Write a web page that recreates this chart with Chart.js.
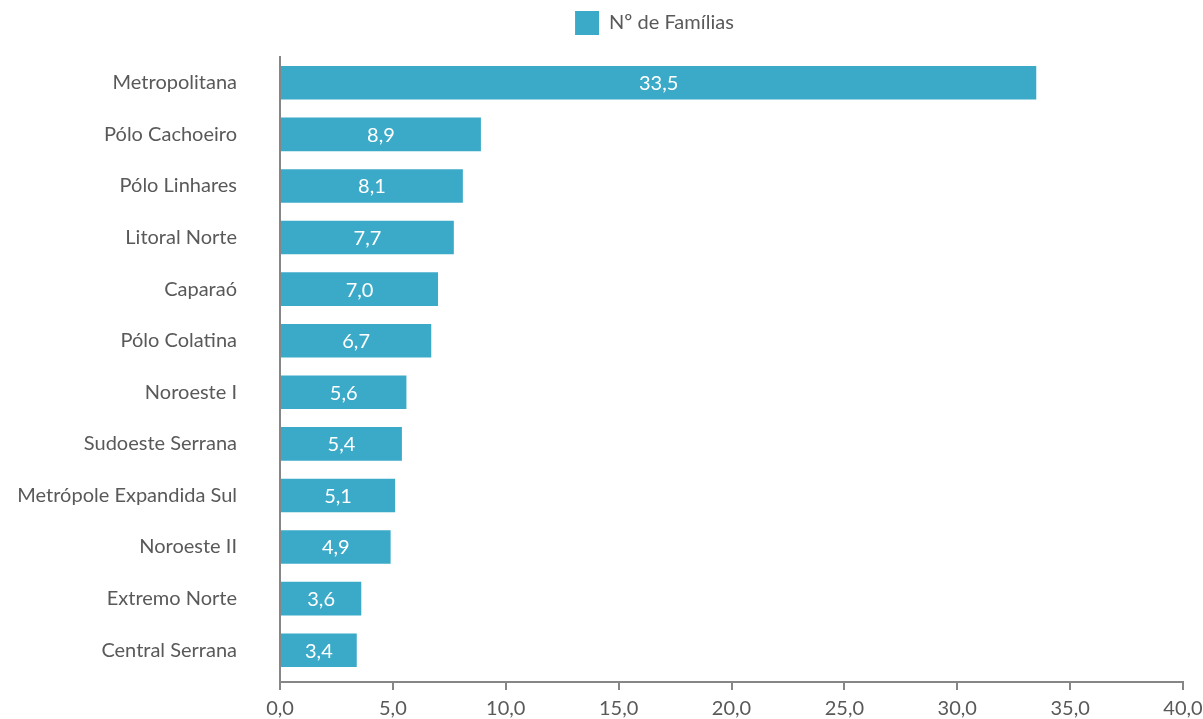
<!DOCTYPE html>
<html lang="pt">
<head>
<meta charset="utf-8">
<title>Nº de Famílias por região</title>
<script src="https://cdn.jsdelivr.net/npm/chart.js@4.4.1/dist/chart.umd.min.js"></script>
<style>
  html, body { margin: 0; padding: 0; background: #ffffff; }
  canvas { display: block; }
</style>
</head>
<body>
<canvas id="grafico" width="1203" height="719"></canvas>
<script>
const regioes = [
  "Metropolitana",
  "Pólo Cachoeiro",
  "Pólo Linhares",
  "Litoral Norte",
  "Caparaó",
  "Pólo Colatina",
  "Noroeste I",
  "Sudoeste Serrana",
  "Metrópole Expandida Sul",
  "Noroeste II",
  "Extremo Norte",
  "Central Serrana"
];
const familias = [33.5, 8.9, 8.1, 7.7, 7.0, 6.7, 5.6, 5.4, 5.1, 4.9, 3.6, 3.4];

const corBarra = "#3BAAC8";
const corTexto = "#595959";
const corEixo = "#868686";
const fonte = "Lato, 'Open Sans', sans-serif";

function virgula(v) {
  return Number(v).toFixed(1).replace(".", ",");
}

// escreve o valor no meio de cada barra
const rotulosBarras = {
  id: "rotulosBarras",
  afterDatasetsDraw(chart) {
    const ctx = chart.ctx;
    const meta = chart.getDatasetMeta(0);
    ctx.save();
    ctx.fillStyle = "#ffffff";
    ctx.font = "20px " + fonte;
    ctx.textAlign = "center";
    ctx.textBaseline = "middle";
    meta.data.forEach((bar, i) => {
      const x = (bar.x + bar.base) / 2;
      ctx.fillText(virgula(familias[i]), x, bar.y + 1);
    });
    ctx.restore();
  }
};

// legenda com mais espaço abaixo e deslocada para a direita;
// as categorias terminam um pouco acima da linha do eixo x
const ajusteLayout = {
  id: "ajusteLayout",
  beforeUpdate(chart) {
    const legenda = chart.legend;
    if (legenda && !legenda._ajustada) {
      const fitOriginal = legenda.fit;
      legenda.fit = function () {
        fitOriginal.call(this);
        this.height += 12;
      };
      legenda._ajustada = true;
    }
  },
  afterLayout(chart) {
    if (chart.legend) {
      chart.legend.left += 63;
      chart.legend.right += 63;
    }
    const y = chart.scales.y;
    y._endPixel = y.bottom - 6;
    y._length = y._endPixel - y._startPixel;
  }
};

new Chart(document.getElementById("grafico").getContext("2d"), {
  type: "bar",
  data: {
    labels: regioes,
    datasets: [
      {
        label: "Nº de Famílias",
        data: familias,
        backgroundColor: corBarra,
        borderWidth: 0,
        categoryPercentage: 0.65,
        barPercentage: 1.0
      }
    ]
  },
  options: {
    indexAxis: "y",
    responsive: false,
    animation: false,
    layout: { padding: { top: 1, right: 20, bottom: 0, left: 0 } },
    plugins: {
      legend: {
        display: true,
        position: "top",
        labels: {
          boxWidth: 24,
          boxHeight: 24,
          padding: 10,
          color: corTexto,
          font: { family: fonte, size: 20 }
        }
      },
      tooltip: { enabled: false }
    },
    scales: {
      x: {
        min: 0,
        max: 40,
        ticks: {
          stepSize: 5,
          color: corTexto,
          padding: 7,
          font: { family: fonte, size: 20 },
          callback: (v) => virgula(v)
        },
        grid: {
          display: true,
          drawOnChartArea: false,
          drawTicks: true,
          tickLength: 8,
          color: corEixo,
          lineWidth: 2
        },
        border: { display: true, color: corEixo, width: 2 },
        afterFit(scale) {
          scale.height = 37;
          scale.paddingLeft = 0;
          scale.paddingRight = 0;
        }
      },
      y: {
        ticks: {
          color: corTexto,
          padding: 35,
          font: { family: fonte, size: 20 }
        },
        grid: { display: false },
        border: { display: true, color: corEixo, width: 2 },
        afterFit(scale) {
          scale.width = 280;
          scale.paddingTop = 0;
          scale.paddingBottom = 0;
        }
      }
    }
  },
  plugins: [rotulosBarras, ajusteLayout]
});
</script>
</body>
</html>
